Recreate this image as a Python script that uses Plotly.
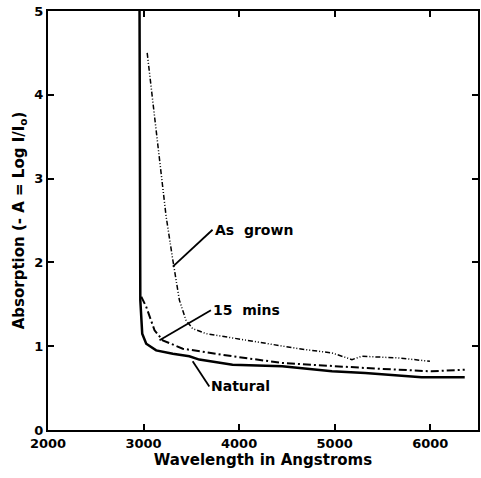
import plotly.graph_objects as go

# Data (wavelength in Angstroms, absorption)
natural_x = [2958, 2962, 2966, 2986, 3028, 3132, 3306, 3479, 3583, 3931, 4451, 4972, 5319, 5910, 6361]
natural_y = [5.0, 3.0, 1.55, 1.15, 1.03, 0.95, 0.91, 0.88, 0.84, 0.78, 0.76, 0.70, 0.68, 0.63, 0.63]

mins15_x = [2976, 3028, 3115, 3201, 3410, 3931, 4451, 4972, 5319, 6014, 6361]
mins15_y = [1.59, 1.47, 1.19, 1.07, 0.97, 0.88, 0.80, 0.76, 0.74, 0.70, 0.72]

grown_x = [3038, 3132, 3236, 3306, 3375, 3444, 3514, 3653, 4104, 4625, 4972, 5181, 5285, 5667, 5997]
grown_y = [4.50, 3.54, 2.55, 2.03, 1.55, 1.31, 1.21, 1.15, 1.07, 0.97, 0.92, 0.84, 0.88, 0.86, 0.82]

x_ticks = [2000, 3000, 4000, 5000, 6000]
y_ticks = [0, 1, 2, 3, 4, 5]

labels = [
    # text, text x, text y, pointer x, pointer y
    ("As  grown", 3722, 2.39, 3306, 1.95),
    ("15  mins", 3705, 1.43, 3167, 1.07),
    ("Natural", 3688, 0.52, 3514, 0.82),
]

FONT = "DejaVu Sans"

fig = go.Figure()
fig.add_trace(go.Scatter(x=natural_x, y=natural_y, mode="lines",
                         line=dict(color="black", width=2.5), name="Natural"))
fig.add_trace(go.Scatter(x=mins15_x, y=mins15_y, mode="lines",
                         line=dict(color="black", width=2, dash="8px,3px,2px,3px"), name="15 mins"))
fig.add_trace(go.Scatter(x=grown_x, y=grown_y, mode="lines",
                         line=dict(color="black", width=1.5, dash="5px,2px,1px,2px,1px,2px"), name="As grown"))

for text, tx, ty, px, py in labels:
    fig.add_trace(go.Scatter(x=[px, tx], y=[py, ty], mode="lines",
                             line=dict(color="black", width=1.8), showlegend=False))
    fig.add_annotation(x=tx, y=ty, text="<b>" + text + "</b>", showarrow=False,
                       xanchor="left", yanchor="middle",
                       font=dict(family=FONT, size=14, color="black"))

fig.update_layout(
    width=481, height=478,
    margin=dict(l=48, r=1, t=11, b=48),
    paper_bgcolor="white", plot_bgcolor="white",
    showlegend=False,
    font=dict(family=FONT, size=13, color="black"),
)
fig.update_xaxes(
    range=[2000, 6500], tickvals=x_ticks, ticktext=["<b>%d</b>" % v for v in x_ticks],
    showgrid=False, zeroline=False, showline=True, linecolor="black", linewidth=2,
    mirror="ticks", ticks="inside", ticklen=6, tickwidth=2, tickcolor="black",
    title=dict(text="<b>Wavelength in Angstroms</b>", font=dict(size=15), standoff=2),
)
fig.update_yaxes(
    range=[0, 5], tickvals=y_ticks, ticktext=["<b>%d</b>" % v for v in y_ticks],
    showgrid=False, zeroline=False, showline=True, linecolor="black", linewidth=2,
    mirror="ticks", ticks="inside", ticklen=6, tickwidth=2, tickcolor="black",
    title=dict(text="<b>Absorption (- A = Log I/I<sub>o</sub>)</b>", font=dict(size=15), standoff=6),
)

fig.write_html("out.html")
